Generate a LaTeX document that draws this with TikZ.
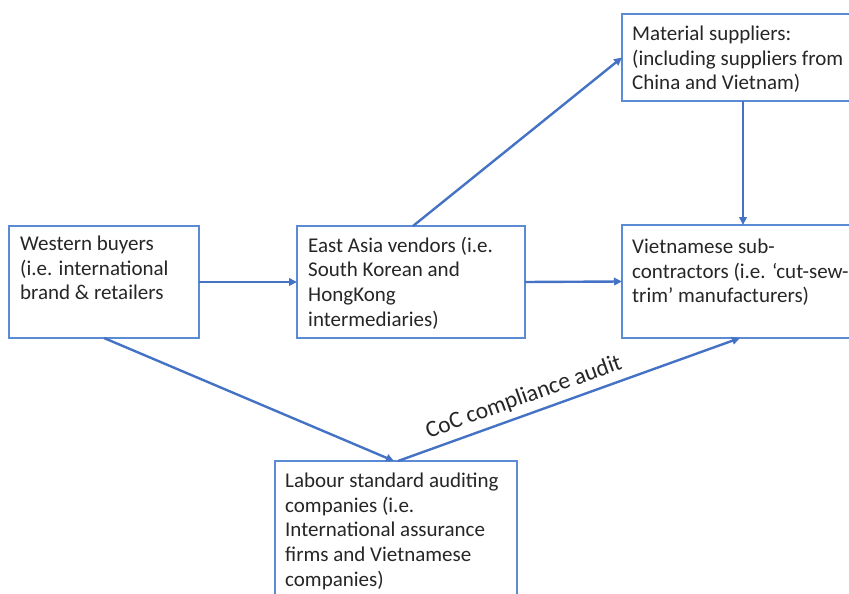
\documentclass[tikz,border=0pt]{standalone}
\usepackage{fontspec}
\setmainfont{Carlito}
\usetikzlibrary{arrows.meta}
\definecolor{boxblue}{HTML}{5B8BD5}
\definecolor{arrblue}{HTML}{4472C4}
\begin{document}
\begin{tikzpicture}[x=1pt,y=-1pt,
  box/.style={draw=boxblue,line width=1.3pt,fill=white,inner sep=0pt,outer sep=0pt,anchor=north west},
  txt/.style={inner sep=0pt,anchor=north west,align=left,font=\fontsize{21}{24.8}\selectfont,text=black!85},
  arr/.style={draw=arrblue,line width=2.4pt,-{Triangle[length=8pt,width=7.5pt]}},
  lbl/.style={font=\fontsize{23.5}{28}\selectfont,text=black!85,inner sep=6pt}]
\useasboundingbox (0,0) rectangle (849,594);
\clip (0,0) rectangle (849,594);
\node[box,minimum width=190pt,minimum height=112pt] (W) at (9,226) {};
\node[box,minimum width=228pt,minimum height=112pt] (E) at (297,226) {};
\node[box,minimum width=242pt,minimum height=113pt] (V) at (622,225) {};
\node[box,minimum width=242pt,minimum height=87pt] (M) at (622,14) {};
\node[box,minimum width=242pt,minimum height=160pt] (L) at (275,461) {};
\node[txt] (Wt) at (20,235.5) {Western buyers\\(i.e. international\\brand \& retailers};
\node[txt] (Et) at (308,236.5) {East Asia vendors (i.e.\\South Korean and\\HongKong\\intermediaries)};
\node[txt] (Vt) at (632,238.5) {Vietnamese sub-\\contractors (i.e. ‘cut-sew-\\trim’ manufacturers)};
\node[txt] (Mt) at (632,25.5) {Material suppliers:\\(including suppliers from\\China and Vietnam)};
\node[txt] (Lt) at (285,472.5) {Labour standard auditing\\companies (i.e.\\International assurance\\firms and Vietnamese\\companies)};
\draw[arr] (W.east) -- (E.west);
\draw[arr] (E.east) -- (V.west);
\draw[arr] ([xshift=2pt]E.north) -- (M.west);
\draw[arr] (M.south) -- (V.north);
\draw[arr] (W.south) -- ([xshift=-2pt]L.north);
\draw[arr] ([xshift=2pt]L.north) -- node[lbl,pos=0.385,sloped,above] {CoC compliance audit} ([xshift=-3pt]V.south);
\end{tikzpicture}
\end{document}
